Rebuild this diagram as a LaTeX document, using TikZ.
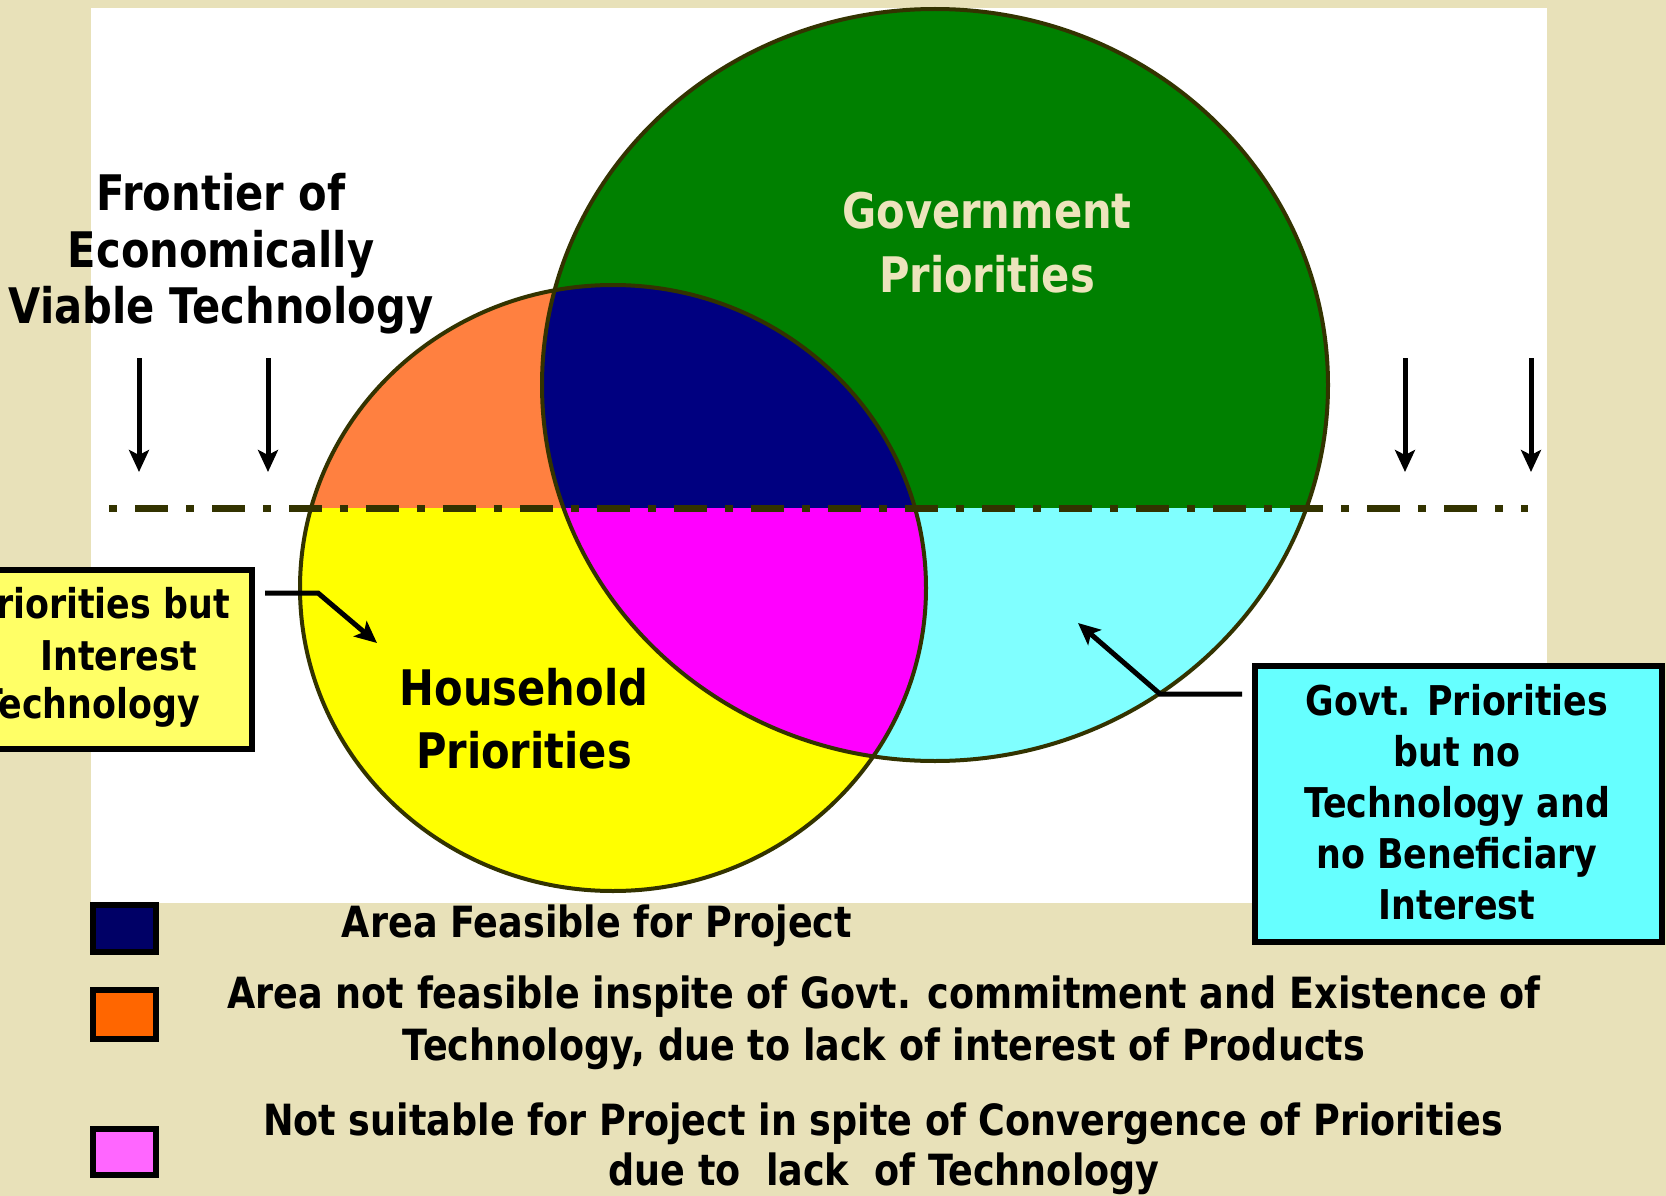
\documentclass[tikz,border=0pt]{standalone}
\usepackage{fontspec}
\newfontfamily\slidefont{DejaVu Sans}[FakeStretch=0.85]
\usetikzlibrary{arrows.meta}
\definecolor{slidebg}{RGB}{232,225,185}
\definecolor{govgreen}{RGB}{0,128,0}
\definecolor{feasnavy}{RGB}{0,0,128}
\definecolor{hhorange}{RGB}{255,128,64}
\definecolor{hhyellow}{RGB}{255,255,0}
\definecolor{nomagenta}{RGB}{255,0,255}
\definecolor{govcyan}{RGB}{128,255,255}
\definecolor{rimolive}{RGB}{51,51,0}
\definecolor{boxyellow}{RGB}{255,255,102}
\definecolor{boxcyan}{RGB}{102,255,255}
\definecolor{legnavy}{RGB}{0,0,102}
\definecolor{legorange}{RGB}{255,102,0}
\definecolor{legpink}{RGB}{255,102,255}
\definecolor{govtext}{RGB}{236,228,188}
\begin{document}
\begin{tikzpicture}[x=1pt,y=-1pt,
	pointer/.style={line width=5pt,-{Stealth[length=22pt,width=20pt,inset=5pt]}},
	rim/.style={draw=rimolive,line width=4pt},
	notebox/.style={draw=black,line width=6pt,inner sep=0pt},
	legbox/.style={draw=black,line width=6pt,minimum width=63pt,minimum height=47pt,inner sep=0pt},
	bigtext/.style={font=\slidefont\bfseries\fontsize{49}{57}\selectfont,anchor=base,inner sep=0pt},
	boxtext/.style={font=\slidefont\bfseries\fontsize{41}{51}\selectfont,anchor=base,inner sep=0pt},
	legtext/.style={font=\slidefont\bfseries\fontsize{43}{52}\selectfont,anchor=base,inner sep=0pt}]
	\clip (0,0) rectangle (1666,1196);
	\fill[slidebg] (0,0) rectangle (1666,1196);
	\fill[white] (91,8) rectangle (1547,903);
	\begin{scope}
		\clip (935,385) ellipse [x radius=393,y radius=376];
		\fill[govgreen] (500,0) rectangle (1400,508);
		\fill[govcyan] (500,508) rectangle (1400,800);
	\end{scope}
	\begin{scope}
		\clip (613,588) ellipse [x radius=313,y radius=303];
		\fill[hhorange] (280,270) rectangle (950,508);
		\fill[hhyellow] (280,508) rectangle (950,900);
		\clip (935,385) ellipse [x radius=393,y radius=376];
		\fill[feasnavy] (280,270) rectangle (950,508);
		\fill[nomagenta] (280,508) rectangle (950,900);
	\end{scope}
	\draw[rim] (935,385) ellipse [x radius=393,y radius=376];
	\draw[rim] (613,588) ellipse [x radius=313,y radius=303];
	\coordinate (fl) at (109,508);
	\coordinate (fr) at (1528,508);
	\draw[rimolive,line width=7pt,dash pattern=on 8pt off 18pt on 33pt off 18pt] (fl) -- (fr);
	\node[bigtext] (fr1) at (221,210) {Frontier of};
	\node[bigtext] (fr2) at (221,267) {Economically};
	\node[bigtext] (fr3) at (221,323) {Viable Technology};
	\foreach \x [count=\i] in {139,268,1405,1531} {
		\coordinate (ft\i) at (\x,358);
		\coordinate (fb\i) at (\x,472);
		\draw[pointer] (ft\i) -- (fb\i);
	}
	\node[bigtext,text=govtext] (gov1) at (987,228) {Government};
	\node[bigtext,text=govtext] (gov2) at (987,292) {Priorities};
	\node[bigtext] (hh1) at (524,705) {Household};
	\node[bigtext] (hh2) at (524,768) {Priorities};
	\node[notebox,fill=boxyellow,minimum width=292pt,minimum height=179pt] (hhbox) at (106,659.5) {};
	\node[boxtext,anchor=base east] (hhl1) at (230,618) {Priorities but};
	\node[boxtext,anchor=base east] (hhl2) at (197,670) {Interest};
	\node[boxtext,anchor=base east] (hhl3) at (200,718) {Technology};
	\coordinate (hhfoot) at (265,593);
	\coordinate (hhbend) at (318,593);
	\coordinate (hhtip) at (377,643);
	\draw[pointer] (hhfoot) -- (hhbend) -- (hhtip);
	\node[notebox,fill=boxcyan,minimum width=407pt,minimum height=276pt] (gvbox) at (1458.5,804) {};
	\foreach \t [count=\i] in {Govt. Priorities,but no,Technology and,no Beneficiary,Interest}
		\node[boxtext] (gvl\i) at (1457,{664+51*\i}) {\t};
	\coordinate (gvfoot) at (1242,694);
	\coordinate (gvbend) at (1160,694);
	\coordinate (gvtip) at (1078,623);
	\draw[pointer] (gvfoot) -- (gvbend) -- (gvtip);
	\node[legbox,fill=legnavy] (lg1) at (124.5,928.5) {};
	\node[legbox,fill=legorange,minimum height=49pt] (lg2) at (124.5,1014.5) {};
	\node[legbox,fill=legpink,minimum height=46pt] (lg3) at (124.5,1152) {};
	\node[legtext] (lt1) at (597,937) {Area Feasible for Project};
	\node[legtext] (lt2) at (884,1008) {Area not feasible inspite of Govt. commitment and Existence of};
	\node[legtext] (lt3) at (884,1060) {Technology, due to lack of interest of Products};
	\node[legtext] (lt4) at (883,1135) {Not suitable for Project in spite of Convergence of Priorities};
	\node[legtext] (lt5) at (884,1185) {due to~ lack~ of Technology};
\end{tikzpicture}
\end{document}
